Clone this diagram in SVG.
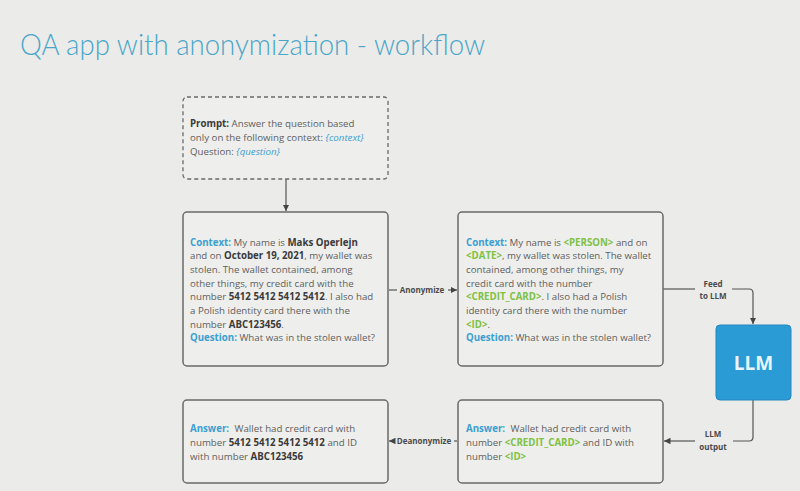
<svg xmlns="http://www.w3.org/2000/svg" width="800" height="491" viewBox="0 0 800 491">
<defs>
<marker id="ah" viewBox="0 0 10 10" refX="10" refY="5" markerWidth="6.5" markerHeight="6.5" orient="auto" markerUnits="userSpaceOnUse">
<path d="M0,0 L10,5 L0,10 z" fill="#444"/>
</marker>
<style>
.bg{fill:#ebebe9}
.box{fill:#eeeeec;stroke:#6a6a6a;stroke-width:1.5}
.dash{fill:#eeeeec;stroke:#6a6a6a;stroke-width:1.3;stroke-dasharray:4 3}
.t{font-family:"Open Sans","DejaVu Sans",sans-serif;font-size:9.7px;fill:#5e5e5e}
.b{font-weight:bold;fill:#3a3a3a}
.k{font-weight:bold;fill:#3aa0d2}
.g{font-weight:bold;fill:#7dc146}
.i{font-style:italic;fill:#3aa0d2}
.lbl{font-family:"Open Sans","DejaVu Sans",sans-serif;font-size:8px;font-weight:bold;fill:#4a4a4a;text-anchor:middle}
.ln{fill:none;stroke:#555;stroke-width:1.2}
</style>
</defs>
<rect class="bg" x="0" y="0" width="800" height="491"/>
<text x="20" y="55" font-family="Lato,'Open Sans',sans-serif" font-weight="300" font-size="30" fill="#4aa6c9" textLength="465" lengthAdjust="spacingAndGlyphs">QA app with anonymization - workflow</text>

<g id="connectors">
<line class="ln" x1="286" y1="179" x2="286" y2="211" marker-end="url(#ah)"/>
<line class="ln" x1="389" y1="290" x2="397" y2="290"/>
<line class="ln" x1="448" y1="290" x2="457" y2="290" marker-end="url(#ah)"/>
<text class="lbl" x="422" y="293">Anonymize</text>
<path class="ln" d="M663,289 H695"/>
<path class="ln" d="M732,289 H749 Q753,289 753,293 V324" marker-end="url(#ah)"/>
<text class="lbl" x="713" y="287">Feed</text>
<text class="lbl" x="713" y="299">to LLM</text>
<path class="ln" d="M753,400 V437 Q753,441 749,441 H733"/>
<line class="ln" x1="695" y1="441" x2="664" y2="441" marker-end="url(#ah)"/>
<text class="lbl" x="713" y="437">LLM</text>
<text class="lbl" x="713" y="450">output</text>
<line class="ln" x1="457" y1="441" x2="454" y2="441"/>
<line class="ln" x1="393" y1="441" x2="389" y2="441" marker-end="url(#ah)"/>
<text class="lbl" x="424" y="444">Deanonymize</text>
</g>

<g id="prompt">
<rect class="dash" x="183" y="97" width="205" height="82" rx="4"/>
<text class="t" x="190" y="127"><tspan class="b">Prompt:</tspan> Answer the question based</text>
<text class="t" x="190" y="141">only on the following context: <tspan class="i">{context}</tspan></text>
<text class="t" x="190" y="155">Question: <tspan class="i">{question}</tspan></text>
</g>

<g id="context">
<rect class="box" x="183" y="212" width="205" height="154" rx="4"/>
<text class="t" x="190" y="245.5"><tspan class="k">Context:</tspan> My name is <tspan class="b">Maks Operlejn</tspan></text>
<text class="t" x="190" y="259.2">and on <tspan class="b">October 19, 2021</tspan>, my wallet was</text>
<text class="t" x="190" y="272.9">stolen. The wallet contained, among</text>
<text class="t" x="190" y="286.6">other things, my credit card with the</text>
<text class="t" x="190" y="300.3">number <tspan class="b">5412 5412 5412 5412</tspan>. I also had</text>
<text class="t" x="190" y="314">a Polish identity card there with the</text>
<text class="t" x="190" y="327.7">number <tspan class="b">ABC123456</tspan>.</text>
<text class="t" x="190" y="341.4"><tspan class="k">Question:</tspan> What was in the stolen wallet?</text>
</g>

<g id="anon-context">
<rect class="box" x="458" y="212" width="205" height="154" rx="4"/>
<text class="t" x="466" y="245.5"><tspan class="k">Context:</tspan> My name is <tspan class="g">&lt;PERSON&gt;</tspan> and on</text>
<text class="t" x="466" y="259.2"><tspan class="g">&lt;DATE&gt;</tspan>, my wallet was stolen. The wallet</text>
<text class="t" x="466" y="272.9">contained, among other things, my</text>
<text class="t" x="466" y="286.6">credit card with the number</text>
<text class="t" x="466" y="300.3"><tspan class="g">&lt;CREDIT_CARD&gt;</tspan>. I also had a Polish</text>
<text class="t" x="466" y="314">identity card there with the number</text>
<text class="t" x="466" y="327.7"><tspan class="g">&lt;ID&gt;</tspan>.</text>
<text class="t" x="466" y="341.4"><tspan class="k">Question:</tspan> What was in the stolen wallet?</text>
</g>

<g id="llm">
<rect x="716" y="325" width="75" height="75" rx="4" fill="#2a9bd5" stroke="#2287c0" stroke-width="1"/>
<text x="753.5" y="370" text-anchor="middle" font-family="'Open Sans','DejaVu Sans',sans-serif" font-weight="bold" font-size="19" fill="#e8f4fb">LLM</text>
</g>

<g id="anon-answer">
<rect class="box" x="458" y="400" width="205" height="83" rx="4"/>
<text class="t" x="466" y="431.5"><tspan class="k">Answer:</tspan><tspan dx="5.5">Wallet had credit card with</tspan></text>
<text class="t" x="466" y="445.5">number <tspan class="g">&lt;CREDIT_CARD&gt;</tspan> and ID with</text>
<text class="t" x="466" y="459.5">number <tspan class="g">&lt;ID&gt;</tspan></text>
</g>

<g id="answer">
<rect class="box" x="183" y="400" width="205" height="83" rx="4"/>
<text class="t" x="190" y="431.5"><tspan class="k">Answer:</tspan><tspan dx="5.5">Wallet had credit card with</tspan></text>
<text class="t" x="190" y="445.5">number <tspan class="b">5412 5412 5412 5412</tspan> and ID</text>
<text class="t" x="190" y="459.5">with number <tspan class="b">ABC123456</tspan></text>
</g>
</svg>
